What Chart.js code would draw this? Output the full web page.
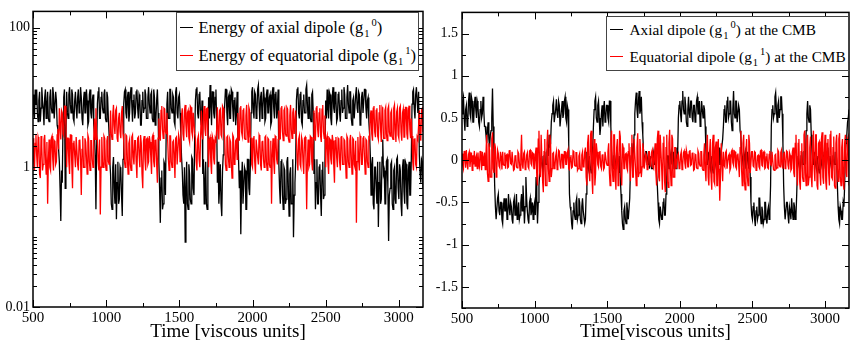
<!DOCTYPE html>
<html>
<head>
<meta charset="utf-8">
<script src="https://cdn.jsdelivr.net/npm/chart.js@4"></script>
<style>
  body { margin: 0; background: #fff; }
  #sahne { position: relative; width: 850px; height: 343px; background: #fff; overflow: hidden; }
  canvas { position: absolute; top: 0; }
  .lejant {
    position: absolute; box-sizing: border-box; background: #fff;
    border: 1.5px solid #444;
    font-family: "Liberation Serif", "Times New Roman", serif; color: #000;
  }
  .satir { position: absolute; left: 0; height: 18px; line-height: 18px; white-space: nowrap; }
  .cizgi { position: absolute; left: 3px; top: 8px; width: 13px; height: 0; border-top: 1.5px solid; }
  .metin { position: absolute; top: 0; }
  .alt { font-size: 10.5px; position: relative; top: 4px; margin-left: 1px; }
  .ust { font-size: 10.5px; position: relative; top: -7px; margin-left: 2px; }
</style>
</head>
<body>
<div id="sahne">
  <canvas id="sol" width="430" height="343" style="left:0"></canvas>
  <canvas id="sag" width="420" height="343" style="left:430px"></canvas>

  <div class="lejant" style="left:176px; top:12px; width:243px; height:59px; font-size:16.5px;">
    <div class="satir" style="top:5.5px">
      <span class="cizgi" style="border-color:#000"></span>
      <span class="metin" style="left:21.5px">Energy of axial dipole (g<span class="alt">1</span><span class="ust">0</span>)</span>
    </div>
    <div class="satir" style="top:33.5px">
      <span class="cizgi" style="border-color:#ff0000"></span>
      <span class="metin" style="left:21.5px">Energy of equatorial dipole (g<span class="alt">1</span><span class="ust">1</span>)</span>
    </div>
  </div>

  <div class="lejant" style="left:606px; top:16px; width:243px; height:55px; font-size:15.3px;">
    <div class="satir" style="top:3.5px">
      <span class="cizgi" style="border-color:#000"></span>
      <span class="metin" style="left:22.5px">Axial dipole (g<span class="alt">1</span><span class="ust">0</span>) at the CMB</span>
    </div>
    <div class="satir" style="top:30.5px">
      <span class="cizgi" style="border-color:#ff0000"></span>
      <span class="metin" style="left:22.5px">Equatorial dipole (g<span class="alt">1</span><span class="ust">1</span>) at the CMB</span>
    </div>
  </div>
</div>

<script>
// ── VERI ──
// ornekleme: t = 500, 505, ... 3170 (her satir 100 birim, 20 deger)
const tBas = 500
const tAdim = 5

// Sol panel: eksenel dipol enerjisi (siyah)
const eksenelEnerji = [
  11, 6, 5, 13, 8, 13, 6, 4.5, 9, 12, 4.5, 7, 14, 9, 7, 4, 10, 13, 5, 8,
  12, 5, 4.5, 10, 13, 7, 6, 14, 11, 5, 5, 12, 9, 4, 3.5, 1.8, 1.2, 0.5, 0.17, 0.9,
  0.6, 4, 10, 13, 0.5, 3, 12, 6, 5, 11, 14, 8, 6, 13, 11, 5, 4.5, 9, 12, 7,
  5, 10, 13, 6, 7, 14, 10, 5, 4, 9, 12, 6, 6, 13, 9, 4, 4.5, 11, 13, 6,
  5, 9, 11, 4, 3, 1.5, 0.25, 2, 8, 12, 14, 5, 5, 10, 12, 7, 6, 11, 13, 5,
  4.5, 12, 10, 5, 3, 1.2, 0.8, 0.3, 0.25, 1, 1.4, 0.5, 0.3, 1.1, 0.18, 0.6, 1.2, 0.3, 0.35, 1,
  0.9, 0.4, 0.2, 1.3, 8, 12, 13, 6, 5, 10, 12, 4.5, 6, 11, 14, 8, 4.5, 9, 11, 5,
  6, 12, 13, 7, 5, 11, 10, 4, 4, 9, 12, 6, 7, 13, 11, 5, 5, 10, 14, 8,
  6, 11, 12, 5, 4.5, 13, 10, 4, 5, 9, 13, 6, 1.2, 0.5, 0.16, 0.7, 0.9, 0.25, 0.3, 1.2,
  1.1, 0.4, 3, 8, 12, 5, 5, 13, 13, 7, 6, 11, 10, 4.5, 4, 12, 14, 6, 5, 10,
  11, 6, 3, 1.4, 0.9, 0.4, 0.3, 1, 0.085, 0.5, 1.2, 0.3, 0.25, 1.1, 0.8, 0.35, 0.3, 1.4, 1.3, 0.5,
  0.4, 3, 9, 13, 14, 6, 5, 11, 12, 5, 4, 9, 0.8, 1.3, 0.3, 0.6, 1.2, 0.3, 0.25, 1,
  10, 5, 15, 8, 4, 12, 12, 6, 5, 10, 13, 4.5, 0.6, 1.2, 0.3, 0.5, 1.1, 0.3, 0.2, 0.9,
  1.5, 4, 8, 13, 13, 6, 4, 10, 11, 5, 5, 13, 12, 7, 4.5, 9, 10, 4, 6, 12,
  3, 1.2, 0.5, 0.9, 0.11, 0.6, 1.2, 0.3, 0.3, 1, 0.9, 0.25, 0.25, 1.3, 1.3, 0.5, 0.4, 1, 6, 12,
  14, 7, 5, 12, 11, 5, 6, 13, 15, 8, 4.5, 10, 12, 5, 7, 14, 10, 4.5, 5, 11,
  13, 6, 6, 10, 11, 4, 4.5, 12, 14, 7, 5, 11, 12, 5, 7, 13, 1.1, 0.5, 0.3, 1.2,
  1.3, 0.4, 0.25, 1, 0.9, 0.3, 0.35, 1.2, 1.4, 0.5, 0.2, 0.8, 1, 0.3, 0.3, 1.3, 0.1, 0.4, 0.6, 1.2,
  9, 13, 14, 6, 5, 11, 12, 4.5, 4, 9, 11, 6, 6, 13, 15, 8, 5, 10, 10, 5,
  4.5, 11, 12, 6, 0.8, 1.3, 0.25, 0.6, 1.3, 0.3, 0.3, 1, 1.1, 0.4, 0.2, 0.9, 1.2, 0.35, 0.4, 1.2,
  9, 5, 13, 7, 5, 12, 11, 5, 4, 10, 14, 7, 6, 12, 10, 4.5, 5, 11, 12, 6,
  4.5, 9, 13, 6, 7, 14, 11, 5, 5, 10, 15, 8, 6, 12, 12, 5, 4, 9, 10, 5,
  5, 11, 14, 7, 6, 12, 11, 4, 4.5, 10, 12, 6, 6, 13, 13, 7, 5, 9, 10, 4.5,
  3, 1.5, 0.4, 1.1, 1.4, 0.3, 0.25, 1, 1, 0.5, 0.3, 1.2, 0.14, 0.6, 1.2, 0.3, 0.35, 1.4, 2.5, 0.8,
  0.9, 0.3, 0.3, 1.2, 1.3, 0.5, 0.088, 0.4, 0.5, 1.1, 1.2, 0.3, 0.25, 0.9, 1, 0.35, 0.3, 1.3, 1.4, 0.5,
  0.35, 1.1, 0.9, 0.3, 0.2, 1, 1.3, 0.45, 0.3, 1.2, 1.1, 0.3, 0.25, 0.9, 1.2, 0.4, 0.4, 1.3, 8, 12,
  13, 7, 5, 11, 14, 9, 6, 12, 1.5, 0.8, 0.6, 1.3, 1.2, 0.5, 0.45
]

// Sol panel: ekvatoral dipol enerjisi (kirmizi)
const ekvatoralEnerji = [
  2.6, 1.2, 0.9, 2.2, 2.9, 1.5, 1, 2.7, 2.4, 0.8, 0.7, 2.8, 2, 0.9, 1.1, 2.5, 2.9, 1.4, 0.8, 2.3,
  0.3, 1.2, 2.5, 1, 0.9, 2.6, 2.8, 1.3, 0.9, 2.4, 2.3, 1.1, 1.2, 2.9, 3.5, 1.8, 7, 4, 2.5, 6.5,
  6, 3, 2.8, 7.5, 7.5, 4, 1, 2.6, 2.6, 1.2, 0.8, 2.9, 2.9, 1.1, 0.5, 2.2, 2.4, 1.5, 1, 2.7,
  2.7, 1.1, 0.9, 2.4, 2.5, 1.3, 0.4, 1.8, 2.8, 1, 1, 2.6, 2.3, 1.4, 0.8, 2.9, 2.6, 1.2, 0.9, 2.4,
  2.4, 1.3, 1, 2.6, 5, 2.5, 7, 3, 2.5, 1.2, 0.9, 2.5, 0.21, 1, 2.7, 1.2, 1, 2.8, 2.6, 1.1,
  0.9, 2.4, 2.8, 1.2, 1.1, 2.7, 6.5, 3, 2.5, 5.5, 7.8, 4, 3, 6.5, 7, 2.6, 2.3, 5, 6, 3.2,
  2.6, 6, 7.5, 3, 2.4, 1.2, 1, 2.9, 2.8, 1.3, 0.8, 2.2, 2.5, 1.1, 0.9, 2.7, 2.9, 1.4, 1.1, 2.4,
  2.4, 1.2, 0.7, 2.6, 2.7, 1.5, 1, 2.9, 2.2, 0.8, 0.5, 2.4, 2.8, 1.3, 0.9, 2.5, 2.6, 1.1, 1.2, 2.8,
  2.3, 1.4, 0.8, 2.7, 2.9, 1.2, 1, 2.4, 2.5, 1.1, 0.6, 2.6, 5, 2.8, 2.4, 6.5, 7.5, 3.5, 2.6, 7,
  6.8, 3.2, 3, 6, 2.5, 1.3, 0.9, 2.8, 2.8, 1.2, 1, 2.3, 2.4, 1.5, 0.7, 2.6, 2.7, 1.1, 1.1, 2.9,
  2.5, 1.2, 3, 5.5, 7, 3, 2.4, 6.5, 7.8, 4, 2.7, 6, 6.5, 2.6, 2.3, 7.5, 7.2, 3.2, 2.8, 6,
  6, 3, 2.6, 1.2, 0.9, 2.5, 2.8, 1.3, 1, 2.7, 6.5, 3, 2.5, 6, 7.5, 3.5, 2.8, 6.8, 7, 2.6,
  1, 2.5, 2.7, 1.2, 0.8, 2.8, 2.5, 1.3, 1.1, 2.6, 2.4, 3.5, 7.2, 3, 2.5, 6.5, 6.8, 2.9, 2.7, 7.5,
  7, 3.5, 2.6, 1.1, 0.9, 2.7, 2.8, 1.4, 1, 2.5, 2.3, 1.2, 0.7, 2.9, 2.7, 1.1, 1.2, 2.4, 2.5, 1.3,
  6, 3, 2.4, 7, 7.5, 3.2, 2.8, 6.5, 7, 2.6, 2.5, 5.5, 7.8, 3.5, 2.3, 7.2, 6.5, 2.7, 2.6, 1.1,
  1, 2.6, 2.8, 1.2, 0.8, 2.5, 2.5, 1.4, 1.1, 2.9, 2.7, 1.1, 0.9, 2.3, 2.4, 1.3, 1, 2.7, 2.8, 1.2,
  0.9, 2.6, 2.5, 1.1, 1, 2.4, 0.3, 1.5, 2.6, 1.2, 0.8, 2.8, 2.7, 1.3, 1.1, 2.5, 6.5, 3, 2.5, 7,
  7.5, 3.2, 2.4, 6.5, 7, 3, 2.8, 7.2, 6.8, 2.6, 2.3, 5.5, 7.8, 3.5, 2.6, 6, 7, 3, 3, 6.5,
  2.6, 1.3, 0.9, 2.5, 2.8, 1.1, 1, 2.7, 2.4, 1.2, 0.8, 2.6, 2.7, 1.4, 0.25, 1.2, 2.5, 1, 1.1, 2.8,
  2.7, 1.2, 0.9, 2.6, 6.5, 3, 2.4, 7, 7.5, 3.5, 2.7, 6, 7, 2.8, 2.3, 6.8, 7.8, 3.2, 2.6, 5.5,
  1, 2.5, 2.8, 1.2, 0.8, 2.6, 2.5, 1.3, 1.1, 2.9, 2.4, 1.1, 0.6, 2.4, 2.7, 1.4, 1, 2.6, 2.5, 1.2,
  0.9, 2.7, 2.8, 1.1, 1.1, 2.5, 2.4, 1.3, 0.7, 2.8, 2.6, 1.2, 1, 2.4, 2.9, 1.4, 0.8, 2.6, 2.5, 1.1,
  1, 2.4, 0.16, 1.2, 2.7, 1.3, 0.9, 2.8, 2.5, 1.1, 1.1, 2.6, 2.8, 1.4, 0.8, 2.5, 2.4, 1.2, 1, 2.7,
  2.6, 5.5, 6.5, 3, 2.4, 7, 7.5, 3.2, 2.7, 6.5, 7, 2.8, 2.5, 6, 7.8, 3.5, 2.3, 7.2, 6.8, 2.6,
  2.6, 6.5, 7.2, 3, 2.4, 6.8, 7.5, 3.2, 2.8, 6, 6.5, 2.7, 2.5, 7, 7.8, 3.5, 2.3, 6.2, 7, 2.9,
  2.6, 7, 7.5, 3.2, 2.4, 6, 6.8, 2.7, 2.7, 7.2, 7.2, 3, 2.5, 6.5, 7.6, 3.5, 2.6, 5, 2.8, 1.2,
  0.9, 2.5, 2.6, 1.1, 1, 2.7, 2.5, 4, 6.5, 3, 2.4, 6.8, 7, 3.2, 3
]

// Sag panel: CMB'de eksenel dipol g10 (siyah)
const eksenelCmb = [
  0.55, 0.7, 0.75, 0.5, 0.35, 0.6, 0.65, 0.4, 0.45, 0.7, 0.8, 0.55, 0.5, 0.75, 0.7, 0.45, 0.45, 0.65, 0.75, 0.6,
  0.5, 0.7, 0.65, 0.45, 0.4, 0.6, 0.7, 0.5, 0.55, 0.75, 0.6, 0.4, 0.4, 0.3, 0.2, 0.35, 0.45, 0.25, 0.15, 0.3,
  0.35, 0.5, 0.85, 0.4, 0.1, -0.3, -0.55, -0.7, -0.7, -0.45, -0.4, -0.6, -0.65, -0.5, -0.5, -0.7, -0.75, -0.55, -0.45, -0.6,
  -0.6, -0.45, -0.7, -0.65, -0.4, -0.55, -0.65, -0.5, -0.55, -0.7, -0.75, -0.5, -0.45, -0.65, -0.6, -0.4, -0.7, -0.6, -0.5, -0.7,
  -0.65, -0.5, -0.4, -0.6, -0.3, -0.5, -0.75, -0.55, -0.2, -0.45, -0.6, -0.7, -0.75, -0.5, -0.45, -0.65, -0.6, -0.5, -0.7, -0.55,
  -0.5, -0.65, -0.2, -0.45, -0.75, -0.5, -0.3, -0.15, -0.1, 0, 0.05, -0.1, -0.2, 0.05, 0.1, -0.05, -0.05, 0.1, 0.15, 0.05,
  0.3, 0.15, 0.2, 0.45, 0.55, 0.65, 0.7, 0.45, 0.45, 0.6, 0.72, 0.55, 0.5, 0.7, 0.65, 0.4, 0.4, 0.6, 0.7, 0.5,
  0.55, 0.7, 0.75, 0.5, 0.45, 0.65, 0.6, 0.2, -0.4, -0.55, -0.6, -0.75, -0.82, -0.6, -0.5, -0.65, -0.7, -0.5, -0.45, -0.7,
  -0.65, -0.45, -0.5, -0.7, -0.75, -0.55, -0.45, -0.6, -0.6, -0.75, -0.7, -0.4, 0.1, -0.05, -0.1, 0.05, 0.05, -0.1, -0.15, 0.05,
  0.15, 0.4, 0.6, 0.7, 0.75, 0.5, 0.45, 0.65, 0.7, 0.5, 0.3, 0.4, 0.55, 0.65, 0.4, 0.6, 0.7, 0.45, 0.5, 0.65,
  0.65, 0.5, 0.45, 0.7, 0.7, 0.4, 0.1, -0.05, -0.1, 0.05, 0.05, -0.1, -0.05, 0.1, 0.1, -0.05, -0.15, 0.05, -0.2, -0.4,
  -0.6, -0.75, -0.82, -0.6, -0.55, -0.7, -0.75, -0.5, -0.6, -0.7, -0.7, -0.45, -0.1, 0.05, 0.2, 0.05, 0.1, 0.3, 0.55, 0.7,
  0.8, 0.6, 0.5, 0.7, 0.82, 0.55, 0.6, 0.75, 0.45, 0.3, 0.1, -0.05, -0.05, 0.1, 0.1, -0.05, 0, 0.1, -0.1, 0.05,
  0.05, -0.1, -0.1, 0.05, 0.1, -0.05, -0.05, 0.1, -0.15, -0.3, -0.5, -0.7, -0.75, -0.55, -0.55, -0.7, -0.7, -0.5, -0.45, -0.65,
  -0.65, -0.4, -0.2, 0.05, 0.05, -0.1, -0.1, 0.05, 0.1, -0.05, 0, 0.1, -0.1, 0, 0.05, -0.1, 0.15, 0.05, 0.5, 0.65,
  0.7, 0.55, 0.45, 0.7, 0.82, 0.6, 0.55, 0.75, 0.65, 0.45, 0.4, 0.6, 0.75, 0.55, 0.5, 0.7, 0.7, 0.5, 0.45, 0.65,
  0.65, 0.45, 0.5, 0.7, 0.75, 0.55, 0.55, 0.7, 0.4, 0.5, 0.7, 0.6, 0.5, 0.65, 0.6, 0.4, 0.1, -0.05, -0.05, 0.1,
  0.1, -0.05, -0.1, 0.05, 0.05, -0.1, -0.15, 0.05, 0.1, -0.05, 0, 0.1, -0.1, 0.05, 0.15, -0.05, -0.05, 0.1, 0.1, 0.25,
  0.4, 0.6, 0.65, 0.45, 0.45, 0.7, 0.75, 0.5, 0.55, 0.7, 0.7, 0.45, 0.35, 0.6, 0.82, 0.55, 0.5, 0.7, 0.7, 0.45,
  0.45, 0.65, 0.6, 0.35, 0.3, 0.1, 0.05, -0.05, -0.1, 0.05, 0.1, -0.1, -0.05, 0.1, 0, -0.1, 0.1, -0.2, -0.5, -0.65,
  -0.7, -0.55, -0.5, -0.7, -0.78, -0.6, -0.55, -0.7, -0.65, -0.45, -0.45, -0.65, -0.75, -0.55, -0.6, -0.75, -0.7, -0.5, -0.5, -0.7,
  -0.75, -0.6, -0.55, -0.7, -0.6, -0.3, 0.4, 0.6, 0.65, 0.5, 0.55, 0.75, 0.8, 0.6, 0.45, 0.65, 0.7, 0.5, 0.6, 0.75,
  0.75, 0.55, 0.2, -0.3, -0.55, -0.7, -0.7, -0.5, -0.5, -0.65, -0.75, -0.55, -0.6, -0.7, -0.45, -0.6, -0.7, -0.5, -0.55, -0.7,
  -0.65, -0.4, -0.1, 0.05, 0.05, -0.1, -0.15, 0.05, 0.1, -0.05, -0.05, 0.1, 0.1, -0.05, 0.35, 0.55, 0.7, 0.5, 0.45, 0.65,
  0.6, 0.3, 0.1, -0.05, -0.05, 0.1, 0.1, -0.05, -0.1, 0.05, 0.05, -0.1, -0.15, 0.05, 0.1, -0.05, 0, 0.1, -0.1, 0.05,
  0.1, -0.05, -0.05, 0.1, 0.15, -0.05, -0.1, 0.05, 0.05, -0.1, -0.15, 0.05, 0.1, -0.05, -0.05, 0.1, 0, -0.3, -0.55, -0.7,
  -0.75, -0.55, -0.6, -0.7, -0.7, -0.5, -0.55, -0.3, 0.1, 0.2, 0.3, 0.45, 0.5, 0.6, 0.6
]

// Sag panel: CMB'de ekvatoral dipol g11 (kirmizi)
const ekvatoralCmb = [
  0.08, -0.06, -0.1, 0.11, 0.04, -0.09, 0.12, -0.03, -0.11, 0.07, 0.1, -0.08, 0.02, 0.09, -0.12, 0.06, -0.05, 0.11, -0.07, 0.03,
  0.06, -0.1, 0.09, -0.04, -0.08, 0.11, 0.05, -0.12, 0.1, -0.06, 0.03, 0.09, -0.11, 0.07, 0.3, -0.15, -0.25, 0.2, 0.12, -0.2,
  -0.2, 0.25, 0.33, -0.1, -0.15, 0.2, 0.15, -0.2, -0.1, 0.12, 0.08, -0.07, -0.09, 0.1, 0.04, -0.11, 0.1, -0.05, -0.06, 0.09,
  -0.1, 0.06, 0.07, -0.09, -0.08, 0.11, 0.12, -0.04, -0.05, 0.1, 0.1, -0.12, -0.11, 0.05, 0.06, -0.08, -0.09, 0.1, 0.08, -0.03,
  -0.12, 0.05, 0.3, -0.05, -0.1, 0.08, 0.1, -0.11, -0.07, 0.06, 0.09, -0.08, -0.1, 0.11, 0.12, -0.04, -0.06, 0.09, 0.08, -0.1,
  -0.1, 0.06, 0.15, -0.2, -0.3, 0.25, 0.35, -0.15, -0.2, 0.3, 0.3, -0.25, -0.38, 0.1, 0.25, -0.3, -0.3, 0.2, 0.36, -0.1,
  -0.25, 0.3, 0.2, -0.2, -0.1, 0.08, 0.09, -0.1, -0.08, 0.05, 0.1, -0.11, -0.06, 0.12, 0.11, -0.05, -0.1, 0.07, 0.07, -0.09,
  -0.09, 0.1, 0.1, -0.05, -0.05, 0.08, 0.12, -0.1, -0.11, 0.03, 0.06, -0.09, -0.08, 0.11, 0.1, -0.06, -0.07, 0.09, 0.09, -0.12,
  -0.1, 0.05, 0.08, -0.11, -0.12, 0.06, 0.1, -0.08, -0.06, 0.1, 0.15, -0.2, -0.3, 0.2, 0.3, -0.15, -0.25, 0.3, 0.35, -0.2,
  -0.4, 0.1, 0.25, -0.3, -0.15, 0.2, 0.1, -0.05, -0.08, 0.09, 0.11, -0.07, -0.1, 0.06, 0.07, -0.11, -0.09, 0.1, 0.1, -0.04,
  -0.06, 0.1, 0.2, -0.15, -0.3, 0.25, 0.35, -0.1, -0.25, 0.3, 0.3, -0.2, -0.35, 0.15, 0.25, -0.3, -0.2, 0.35, 0.28, -0.15,
  -0.3, 0.2, 0.15, -0.1, -0.1, 0.07, 0.08, -0.09, -0.12, 0.1, 0.2, -0.05, -0.25, 0.15, 0.3, -0.2, -0.2, 0.25, 0.25, -0.1,
  -0.3, 0.15, 0.32, -0.2, -0.15, 0.25, 0.1, -0.2, -0.08, 0.2, 0.12, -0.1, -0.1, 0.08, 0.06, -0.11, -0.09, 0.1, 0.1, -0.06,
  -0.07, 0.09, 0.12, -0.08, -0.1, 0.05, 0.2, -0.15, -0.3, 0.25, 0.35, -0.2, -0.25, 0.3, 0.3, -0.1, -0.35, 0.2, 0.28, -0.25,
  -0.38, 0.15, 0.3, -0.25, -0.32, 0.2, 0.36, -0.1, -0.3, 0.3, 0.25, -0.2, -0.2, 0.15, 0.15, -0.1, -0.1, 0.06, 0.08, -0.1,
  -0.09, 0.06, 0.1, -0.11, -0.06, 0.09, 0.11, -0.04, -0.1, 0.12, 0.07, -0.08, -0.08, 0.1, 0.12, -0.06, -0.05, 0.08, 0.09, -0.12,
  -0.11, 0.07, 0.06, -0.09, -0.1, 0.11, 0.08, -0.05, -0.07, 0.1, 0.1, -0.1, -0.12, 0.06, 0.2, -0.1, -0.25, 0.15, 0.3, -0.2,
  -0.3, 0.1, 0.25, -0.2, -0.35, 0.2, 0.3, -0.25, -0.28, 0.15, 0.22, -0.3, -0.3, 0.25, -0.1, -0.48, -0.2, 0.2, 0.2, -0.25,
  0.1, -0.06, -0.08, 0.09, 0.11, -0.1, -0.1, 0.05, 0.07, -0.12, -0.09, 0.1, 0.12, -0.03, -0.06, 0.11, 0.1, -0.08, -0.1, 0.06,
  0.08, -0.05, -0.2, 0.15, 0.35, -0.1, -0.3, 0.2, 0.3, -0.25, -0.35, 0.1, 0.25, -0.2, -0.3, 0.3, 0.2, -0.15, -0.15, 0.1,
  0.1, -0.07, -0.08, 0.1, 0.09, -0.12, -0.11, 0.05, 0.06, -0.08, -0.1, 0.11, 0.12, -0.06, -0.07, 0.09, 0.1, -0.1, -0.09, 0.04,
  0.08, -0.09, -0.1, 0.07, 0.11, -0.05, -0.06, 0.1, 0.1, -0.11, -0.12, 0.06, 0.07, -0.1, -0.09, 0.12, 0.1, -0.06, -0.08, 0.09,
  0.12, -0.05, -0.1, 0.08, 0.09, -0.1, -0.07, 0.11, 0.1, -0.06, -0.11, 0.09, 0.06, -0.12, -0.1, 0.1, 0.15, -0.15, -0.2, 0.2,
  0.3, -0.1, -0.3, 0.2, 0.25, -0.25, -0.35, 0.1, 0.2, -0.2, -0.25, 0.3, 0.35, -0.15, -0.3, 0.25, 0.3, -0.3, -0.2, 0.15,
  0.28, -0.2, -0.32, 0.15, 0.35, -0.1, -0.25, 0.3, 0.3, -0.3, -0.35, 0.2, 0.22, -0.15, -0.3, 0.25, 0.33, -0.2, -0.28, 0.1,
  0.3, -0.25, -0.35, 0.2, 0.25, -0.15, -0.3, 0.3, 0.35, -0.2, -0.22, 0.15, 0.28, -0.3, -0.33, 0.2, 0.3, -0.1, -0.25, 0.25,
  0.32, -0.2, -0.3, 0.15, 0.25, -0.25, -0.35, 0.2, 0.3, -0.15, -0.2, 0.25, 0.28, -0.3, -0.3
]

// ── EKSENLER ──
const xTikler = [500, 1000, 1500, 2000, 2500, 3000]
const xAraTikler = [750, 1250, 1750, 2250, 2750]
const logTikler = [0.01, 1, 100]
const logAraTikler = []
for (let us = -2; us <= 1; us++) {
  for (let k = 2; k <= 10; k++) logAraTikler.push(k * Math.pow(10, us))
}
const linTikler = [-1.5, -1, -0.5, 0, 0.5, 1, 1.5]
const linAraTikler = [-1.75, -1.25, -0.75, -0.25, 0.25, 0.75, 1.25, 1.75]

const yazi = '"Liberation Serif", "Times New Roman", serif'
const noktalar = dizi => dizi.map((v, i) => ({ x: tBas + i * tAdim, y: v }))

// Ice dogru tikler + cerceve
const cerceve = {
  id: 'cerceve',
  afterDatasetsDraw(chart, args, o) {
    const { ctx, chartArea: a } = chart
    const sx = chart.scales.x
    const sy = chart.scales.y
    ctx.save()
    ctx.strokeStyle = '#000'
    ctx.lineWidth = 1
    ctx.beginPath()
    const yatay = (degerler, boy) => degerler.forEach(v => {
      const px = Math.round(sx.getPixelForValue(v)) + 0.5
      ctx.moveTo(px, a.bottom); ctx.lineTo(px, a.bottom - boy)
      ctx.moveTo(px, a.top); ctx.lineTo(px, a.top + boy)
    })
    const dikey = (degerler, boy) => degerler.forEach(v => {
      const py = Math.round(sy.getPixelForValue(v)) + 0.5
      ctx.moveTo(a.left, py); ctx.lineTo(a.left + boy, py)
      ctx.moveTo(a.right, py); ctx.lineTo(a.right - boy, py)
    })
    yatay(o.xAna, 7)
    yatay(o.xAra, 4)
    dikey(o.yAna, 7)
    dikey(o.yAra, 4)
    ctx.stroke()
    ctx.lineWidth = 1.5
    ctx.strokeRect(a.left, a.top, a.right - a.left, a.bottom - a.top)
    ctx.restore()
  }
}

function grafik(id, ayar) {
  return new Chart(document.getElementById(id), {
    type: 'line',
    data: {
      datasets: [
        { data: noktalar(ayar.kirmizi), borderColor: '#ff0000', order: 0 },
        { data: noktalar(ayar.siyah), borderColor: '#000000', order: 1 }
      ]
    },
    options: {
      responsive: false,
      animation: false,
      elements: { point: { radius: 0 }, line: { borderWidth: 1.3, tension: 0 } },
      layout: { padding: ayar.bosluk },
      plugins: {
        legend: { display: false },
        tooltip: { enabled: false },
        cerceve: { xAna: xTikler, xAra: xAraTikler, yAna: ayar.yAna, yAra: ayar.yAra }
      },
      scales: {
        x: {
          type: 'linear', min: 500, max: 3165,
          grid: { display: false, drawTicks: false }, border: { display: false },
          afterBuildTicks: s => { s.ticks = xTikler.map(v => ({ value: v })) },
          afterFit: s => { s.height = ayar.xYukseklik },
          ticks: { autoSkip: false, maxRotation: 0, padding: 2, color: '#000', font: { family: yazi, size: 15 }, callback: v => String(v) },
          title: { display: true, text: ayar.baslik, color: '#000', font: { family: yazi, size: 19 }, padding: 0 }
        },
        y: {
          type: ayar.yTip, min: ayar.yMin, max: ayar.yMax,
          grid: { display: false, drawTicks: false }, border: { display: false },
          afterBuildTicks: s => { s.ticks = ayar.yAna.map(v => ({ value: v })) },
          afterFit: s => { s.width = ayar.yGenislik },
          ticks: { autoSkip: false, padding: ayar.yPay, color: '#000', font: { family: yazi, size: 14 }, callback: v => String(v) }
        }
      }
    },
    plugins: [cerceve]
  })
}

// ── CIZIM ──
grafik('sol', {
  siyah: eksenelEnerji, kirmizi: ekvatoralEnerji,
  yTip: 'logarithmic', yMin: 0.01, yMax: 170,
  yAna: logTikler, yAra: logAraTikler,
  baslik: 'Time [viscous units]',
  bosluk: { left: 0, top: 9, right: 7, bottom: 0 },
  xYukseklik: 36, yGenislik: 33, yPay: 3
})

grafik('sag', {
  siyah: eksenelCmb, kirmizi: ekvatoralCmb,
  yTip: 'linear', yMin: -1.75, yMax: 1.75,
  yAna: linTikler, yAra: linAraTikler,
  baslik: 'Time[viscous units]',
  bosluk: { left: 0, top: 10, right: 1, bottom: 0 },
  xYukseklik: 35, yGenislik: 32, yPay: 4
})
</script>
</body>
</html>
